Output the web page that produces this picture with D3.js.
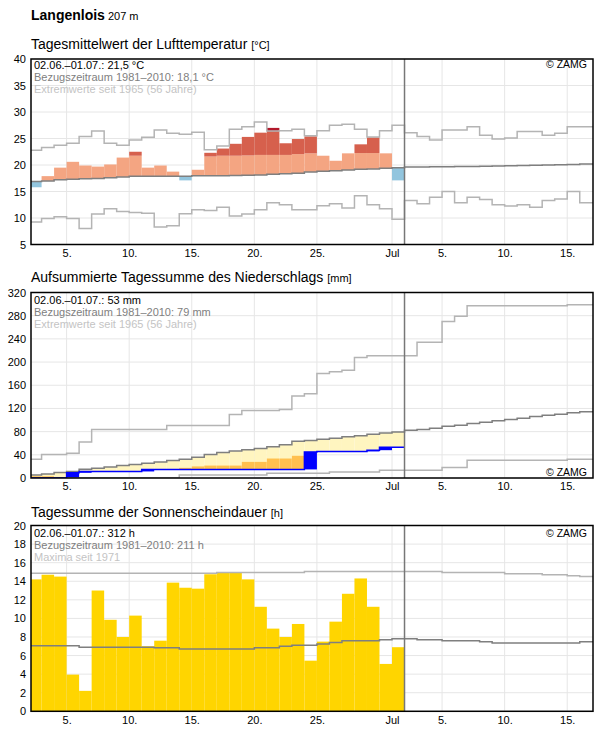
<!DOCTYPE html>
<html><head><meta charset="utf-8">
<script src="https://cdn.jsdelivr.net/npm/d3@7"></script>
<style>
body{margin:0;background:#fff;}
svg text{font-family:"Liberation Sans",Arial,Helvetica,sans-serif;}
</style></head><body>
<svg id="c" width="596" height="729"></svg>
<script>
// ---- data (day index: June d -> d, July d -> 30 + d); series start on June 2 ----
const xTickDays = [5, 10, 15, 20, 25, 31, 35, 40, 45];
const xTickLabels = ["5.", "10.", "15.", "20.", "25.", "Jul", "5.", "10.", "15."];

const tempTicks = [5, 10, 15, 20, 25, 30, 35, 40];
const precipTicks = [0, 40, 80, 120, 160, 200, 240, 280, 320];
const sunTicks = [0, 2, 4, 6, 8, 10, 12, 14, 16, 18, 20];

// Temperature: 02.06.–01.07. daily means
const tempMean = [15.8, 17.9, 19.5, 20.6, 19.9, 19.7, 20.1, 21.4, 22.5, 19.5, 19.9, 18.75, 17.1, 19.1, 22.3,
  23.1, 24.0, 25.3, 26.1, 27.0, 24.1, 24.9, 25.4, 21.75, 20.8, 22.2, 23.9, 25.2, 22.2, 17.1];
// upper band limit (salmon -> red)
const tempHigh = [20.8, 20.9, 21.0, 21.1, 21.2, 21.3, 21.4, 21.5, 21.75, 21.7, 21.7, 21.7, 21.6, 21.6, 21.6,
  21.75, 21.75, 21.8, 21.9, 21.9, 21.9, 22.05, 22.2, 22.2, 22.3, 22.3, 22.25, 22.25, 22.4, 22.4];
// 02.06.–16.07. climate mean and extremes
const tempClim = [16.9, 17.0, 17.2, 17.3, 17.4, 17.45, 17.6, 17.75, 17.9, 17.9, 17.9, 17.9, 17.9, 17.95, 17.95,
  17.95, 18.0, 18.05, 18.1, 18.25, 18.35, 18.45, 18.7, 18.8, 18.9, 19.05, 19.2, 19.25, 19.4, 19.5,
  19.6, 19.6, 19.65, 19.65, 19.7, 19.7, 19.75, 19.8, 19.85, 19.9, 19.95, 20.0, 20.05, 20.1, 20.2];
const tempMax = [22.8, 23.3, 23.75, 24.1, 25.4, 26.4, 24.1, 23.75, 24.7, 25.25, 26.6, 26.0, 25.8, 26.2, 22.9,
  23.6, 26.75, 27.2, 28.1, 26.4, 26.45, 26.75, 25.5, 26.45, 27.5, 27.7, 26.75, 25.3, 26.45, 27.5,
  26.1, 25.4, 24.7, 26.6, 26.6, 27.2, 25.6, 24.9, 25.1, 26.3, 26.3, 25.6, 26.0, 27.2, 27.2];
const tempMin = [9.25, 9.9, 10.25, 9.9, 8.0, 10.75, 11.75, 11.25, 11.05, 10.9, 8.3, 8.55, 10.8, 11.55, 11.4,
  12.05, 10.4, 10.75, 11.55, 12.9, 12.5, 11.55, 11.55, 12.3, 12.7, 11.9, 14.2, 12.5, 11.75, 9.75,
  13.3, 12.7, 13.9, 15.0, 12.9, 13.9, 13.5, 12.5, 12.25, 12.5, 12.05, 13.3, 13.6, 15.0, 12.9];

// Precipitation (accumulated), 02.06.–01.07.
const precipSum = [0, 0, 0, 9, 11.3, 11.3, 11.3, 11.3, 11.3, 14.8, 14.8, 14.8, 14.8, 14.8, 14.8,
  14.8, 14.8, 14.8, 14.8, 14.8, 14.8, 14.8, 45, 45.8, 45.8, 45.8, 45.8, 48, 53, 53];
// dry limit (orange)
const precipLow = [3, 3, 0, 2, 3, 4, 5, 6, 7, 8, 9, 10, 17.5, 20, 21.4,
  21.4, 21.4, 27.8, 27.8, 33.6, 33.6, 38.3, 40, 41, 42, 43, 44, 45, 46, 47];
// 02.06.–16.07.
const precipClim = [5.2, 7, 9.3, 11, 15, 16.8, 19.1, 21.4, 23.2, 25.5, 27.8, 30.1, 32.5, 36, 40.5,
  44, 46.4, 48.7, 51, 53.9, 57.4, 63.2, 64.9, 66.7, 68.4, 71.3, 73, 75.4, 77.7, 79.4,
  82.3, 83.5, 85.8, 89.3, 91, 93.9, 96.2, 98.6, 100.9, 103.2, 106, 108.4, 110.1, 112.5, 114.2];
const precipMax = [32.5, 40.6, 40.6, 42.9, 62, 83.5, 83.5, 83.5, 83.5, 83.5, 83.5, 90.4, 90.4, 90.4, 90.4,
  90.4, 109.6, 116.5, 116.5, 116.5, 118.3, 141.4, 145.5, 180.3, 183.2, 186, 208, 211, 211, 211,
  211, 234, 234, 270, 279, 297, 297, 297, 297, 297, 297, 297, 297, 299, 299];
const precipMin = [0, 0, 0, 0, 0, 0, 0, 0, 0, 0, 0, 0, 5, 5, 5,
  5, 5, 5, 5, 8, 8, 8, 8, 8, 10.4, 10.4, 10.4, 10.4, 13.3, 13.3,
  13.3, 13.3, 13.3, 18, 18, 30.7, 30.7, 30.7, 30.7, 30.7, 30.7, 30.7, 30.7, 32.4, 32.4];

// Sunshine, 02.06.–01.07.
const sunHours = [14.2, 14.7, 14.5, 3.95, 2.2, 13.0, 9.85, 8.0, 10.3, 7.0, 7.6, 13.85, 13.3, 13.2, 14.75,
  14.9, 14.9, 14.2, 11.25, 8.9, 8.0, 9.4, 5.45, 7.5, 9.65, 12.65, 14.3, 11.25, 5.1, 6.9];
const sunClim = [7.05, 7.05, 7.05, 7.05, 6.9, 6.9, 6.9, 6.9, 6.9, 6.9, 6.85, 6.85, 6.7, 6.7, 6.7,
  6.7, 6.7, 6.7, 6.85, 6.85, 7.0, 7.1, 7.1, 7.25, 7.4, 7.6, 7.6, 7.6, 7.7, 7.8,
  7.8, 7.7, 7.7, 7.6, 7.6, 7.6, 7.5, 7.35, 7.35, 7.35, 7.35, 7.35, 7.35, 7.35, 7.5];
const sunMax = [14.85, 14.85, 14.85, 14.85, 14.85, 14.85, 14.85, 14.85, 14.85, 14.85, 14.85, 14.85, 14.85, 14.85, 14.85,
  14.95, 14.95, 14.95, 14.95, 14.95, 14.95, 14.95, 15.05, 15.05, 15.05, 15.05, 15.05, 15.05, 15.05, 15.05,
  15.05, 15.05, 15.05, 14.95, 14.95, 14.95, 14.95, 14.95, 14.8, 14.8, 14.8, 14.7, 14.7, 14.6, 14.5];

// ---- drawing ----
const svg = d3.select("#c");
const firstDay = 2;
const xDom = [2.155, 47.06];
const x = d3.scaleLinear().domain(xDom).range([31, 593]);
const todayDay = 32;

const C = {
  grid: "#e6e6e6", clim: "#7f7f7f", ext: "#b4b4b4",
  salmon: "#f4a582", red: "#d6604d", dred: "#b2182b", cold: "#92c5de",
  yellow: "#fff5c0", orange: "#ffc04f", blue: "#0000ff", sun: "#ffd500"
};

function panel(id, top, bottom, domain, ticks) {
  const y = d3.scaleLinear().domain(domain).range([bottom, top]);
  const g = svg.append("g");
  svg.append("clipPath").attr("id", "clip" + id)
    .append("rect").attr("x", 31).attr("y", top).attr("width", 562).attr("height", bottom - top);
  // grid
  g.append("g").selectAll("line").data(ticks).join("line")
    .attr("x1", 31).attr("x2", 593).attr("y1", d => y(d)).attr("y2", d => y(d))
    .attr("stroke", C.grid).attr("stroke-width", 1);
  g.append("g").selectAll("line").data(xTickDays).join("line")
    .attr("x1", d => x(d)).attr("x2", d => x(d)).attr("y1", top).attr("y2", bottom)
    .attr("stroke", C.grid).attr("stroke-width", 1);
  const data = g.append("g").attr("clip-path", `url(#clip${id})`);
  // axes
  const ya = g.append("g").attr("transform", "translate(31,0)")
    .call(d3.axisLeft(y).tickValues(ticks).tickSize(0).tickPadding(5));
  ya.select(".domain").remove();
  ya.selectAll("text").attr("font-size", 11).attr("fill", "#000")
    .attr("font-family", '"Liberation Sans",Arial,sans-serif');
  const xa = g.append("g").attr("transform", `translate(0,${bottom})`)
    .call(d3.axisBottom(x).tickValues(xTickDays).tickFormat((d, i) => xTickLabels[i]).tickSize(0).tickPadding(4.5));
  xa.select(".domain").remove();
  xa.selectAll("text").attr("font-size", 11).attr("fill", "#000")
    .attr("font-family", '"Liberation Sans",Arial,sans-serif');
  return { y, g, data, top, bottom };
}

function stepLine(p, arr, color, w) {
  const pts = arr.map((v, i) => [firstDay + i, v]);
  pts.push([Math.max(firstDay + arr.length, xDom[1]) , arr[arr.length - 1]]);
  p.data.append("path").datum(pts)
    .attr("d", d3.line().curve(d3.curveStepAfter).x(d => x(d[0])).y(d => p.y(d[1])))
    .attr("fill", "none").attr("stroke", color).attr("stroke-width", w);
}

function bar(p, i, v0, v1, color) {
  const a = Math.min(v0, v1), b = Math.max(v0, v1);
  if (b - a <= 0) return;
  p.data.append("rect")
    .attr("x", x(firstDay + i)).attr("width", x(firstDay + i + 1) - x(firstDay + i))
    .attr("y", p.y(b)).attr("height", p.y(a) - p.y(b)).attr("fill", color);
}

function finish(p) {
  p.g.append("line").attr("x1", x(todayDay)).attr("x2", x(todayDay))
    .attr("y1", p.top).attr("y2", p.bottom).attr("stroke", "#777").attr("stroke-width", 1.5);
  p.g.append("rect").attr("x", 31).attr("y", p.top).attr("width", 562).attr("height", p.bottom - p.top)
    .attr("fill", "none").attr("stroke", "#000").attr("stroke-width", 1.5);
}

function legend(p, base, lines) {
  lines.forEach((t, i) => {
    p.g.append("text").attr("x", 34).attr("y", base + i * 12).attr("font-size", 11)
      .attr("fill", ["#000", "#808080", "#c4c4c4"][i]).text(t);
  });
}
function zamg(p, yb) {
  p.g.append("text").attr("x", 587).attr("y", yb).attr("font-size", 10.5)
    .attr("text-anchor", "end").attr("fill", "#000").text("© ZAMG");
}
function title(yb, main, unit) {
  const t = svg.append("text").attr("x", 31).attr("y", yb).attr("font-size", 14).attr("fill", "#000");
  t.append("tspan").text(main + " ");
  t.append("tspan").attr("font-size", 11).text(unit);
}

// Station header
const h = svg.append("text").attr("x", 31).attr("y", 19.5).attr("fill", "#000");
h.append("tspan").attr("font-size", 14).attr("font-weight", "bold").text("Langenlois");
h.append("tspan").attr("font-size", 11).text(" 207 m");

// ---- Panel 1: temperature ----
title(49, "Tagesmittelwert der Lufttemperatur", "[°C]");
const p1 = panel(1, 59, 244.5, [5, 40], tempTicks);
tempMean.forEach((v, i) => {
  const c = tempClim[i], hi = tempHigh[i], mx = tempMax[i];
  if (v < c) { bar(p1, i, v, c, C.cold); return; }
  bar(p1, i, c, Math.min(v, hi), C.salmon);
  if (v > hi) bar(p1, i, hi, Math.min(v, Math.max(mx, hi)), C.red);
  if (v > mx) bar(p1, i, Math.max(mx, hi), v, C.dred);
});
stepLine(p1, tempMax, C.ext, 1.5);
stepLine(p1, tempMin, C.ext, 1.5);
stepLine(p1, tempClim, C.clim, 1.5);
finish(p1);
legend(p1, 68.5, ["02.06.–01.07.: 21,5 °C", "Bezugszeitraum 1981–2010: 18,1 °C", "Extremwerte seit 1965 (56 Jahre)"]);
zamg(p1, 67.5);

// ---- Panel 2: precipitation ----
title(282, "Aufsummierte Tagessumme des Niederschlags", "[mm]");
const p2 = panel(2, 292.5, 478, [0, 320], precipTicks);
precipSum.forEach((v, i) => {
  if (precipClim[i] > v) bar(p2, i, v, precipClim[i], C.yellow);
  if (precipLow[i] > v) bar(p2, i, v, precipLow[i], C.orange);
});
precipSum.forEach((v, i) => {
  const prev = i > 0 ? precipSum[i - 1] : 0;
  if (v > prev) bar(p2, i, prev, v, C.blue);
});
stepLine(p2, precipMax, C.ext, 1.5);
stepLine(p2, precipMin, C.ext, 1.5);
stepLine(p2, precipClim, C.clim, 1.5);
{
  const pts = precipSum.map((v, i) => [firstDay + i, v]);
  pts.push([todayDay, precipSum[precipSum.length - 1]]);
  p2.data.append("path").datum(pts)
    .attr("d", d3.line().curve(d3.curveStepAfter).x(d => x(d[0])).y(d => p2.y(d[1])))
    .attr("fill", "none").attr("stroke", C.blue).attr("stroke-width", 1.5);
}
finish(p2);
legend(p2, 303.5, ["02.06.–01.07.: 53 mm", "Bezugszeitraum 1981–2010: 79 mm", "Extremwerte seit 1965 (56 Jahre)"]);
zamg(p2, 476);

// ---- Panel 3: sunshine ----
title(516.5, "Tagessumme der Sonnenscheindauer", "[h]");
const p3 = panel(3, 525.5, 711.3, [0, 20], sunTicks);
sunHours.forEach((v, i) => bar(p3, i, 0, v, C.sun));
stepLine(p3, sunMax, C.ext, 1.5);
stepLine(p3, sunClim, C.clim, 1.5);
finish(p3);
legend(p3, 536.5, ["02.06.–01.07.: 312 h", "Bezugszeitraum 1981–2010: 211 h", "Maxima seit 1971"]);
zamg(p3, 536.5);
</script>
</body></html>
